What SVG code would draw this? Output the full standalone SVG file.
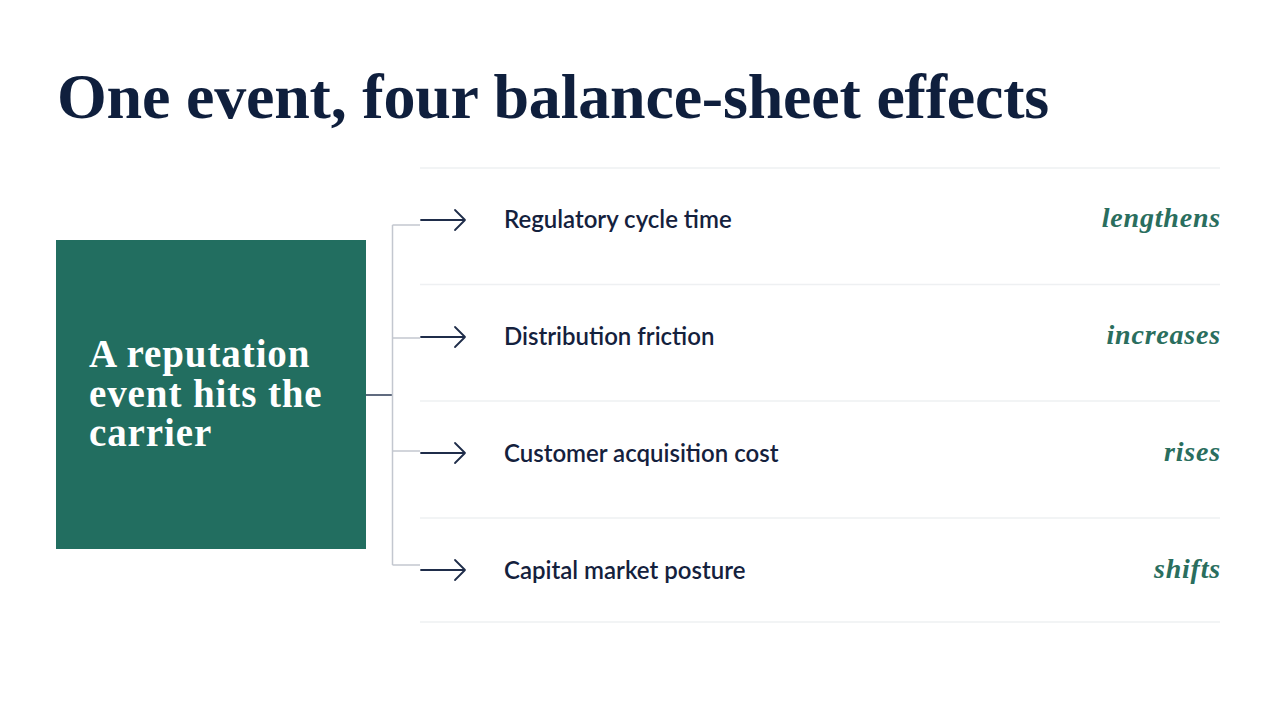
<svg xmlns="http://www.w3.org/2000/svg" width="1280" height="720" viewBox="0 0 1280 720">
<defs>
<style>
.title{font-family:"Liberation Serif","DejaVu Serif",serif;font-weight:700;font-size:64px;fill:#0f1f3d;letter-spacing:-0.2px}
.box{fill:#226e60}
.boxtxt{font-family:"Liberation Serif","DejaVu Serif",serif;font-weight:700;font-size:39px;fill:#ffffff;letter-spacing:0.9px}
.sep{stroke:#eef0f2;stroke-width:1.5;fill:none}
.branch{stroke:#c3c7cf;stroke-width:1.5;fill:none}
.stem{stroke:#2b3a55;stroke-width:1.5;fill:none}
.arrow{stroke:#1f2d4a;stroke-width:1.8;fill:none;stroke-linecap:round;stroke-linejoin:round}
.label{font-family:Lato,"Liberation Sans",sans-serif;font-weight:600;font-size:24px;fill:#14213d}
.effect{font-family:"Liberation Serif","DejaVu Serif",serif;font-weight:700;font-style:italic;font-size:28px;fill:#2a6e5e;text-anchor:end;letter-spacing:0.8px}
</style>
</defs>
<rect width="1280" height="720" fill="#ffffff"/>
<text class="title" x="57" y="118">One event, four balance-sheet effects</text>

<g id="separators">
<line class="sep" x1="420" y1="168" x2="1220" y2="168"/>
<line class="sep" x1="420" y1="284.5" x2="1220" y2="284.5"/>
<line class="sep" x1="420" y1="401" x2="1220" y2="401"/>
<line class="sep" x1="420" y1="518" x2="1220" y2="518"/>
<line class="sep" x1="420" y1="622" x2="1220" y2="622"/>
</g>

<g id="connectors">
<line class="stem" x1="366" y1="395" x2="393" y2="395"/>
<path class="branch" d="M392.5 225 V565 M392.5 225 H420 M392.5 338 H420 M392.5 451 H420 M392.5 565 H420"/>
<path class="arrow" d="M421 220 H465 M455 210 L465 220 L455 230"/>
<path class="arrow" d="M421 337 H465 M455 327 L465 337 L455 347"/>
<path class="arrow" d="M421 453 H465 M455 443 L465 453 L455 463"/>
<path class="arrow" d="M421 570 H465 M455 560 L465 570 L455 580"/>
</g>

<g id="source">
<rect class="box" x="56" y="240" width="310" height="309"/>
<text class="boxtxt"><tspan x="89" y="367">A reputation</tspan><tspan x="89" y="407">event hits the</tspan><tspan x="89" y="446">carrier</tspan></text>
</g>

<g id="effect1">
<text class="label" x="504" y="228">Regulatory cycle time</text>
<text class="effect" x="1221" y="227">lengthens</text>
</g>
<g id="effect2">
<text class="label" x="504" y="345">Distribution friction</text>
<text class="effect" x="1221" y="344">increases</text>
</g>
<g id="effect3">
<text class="label" x="504" y="462">Customer acquisition cost</text>
<text class="effect" x="1221" y="461">rises</text>
</g>
<g id="effect4">
<text class="label" x="504" y="579">Capital market posture</text>
<text class="effect" x="1221" y="578">shifts</text>
</g>
</svg>
